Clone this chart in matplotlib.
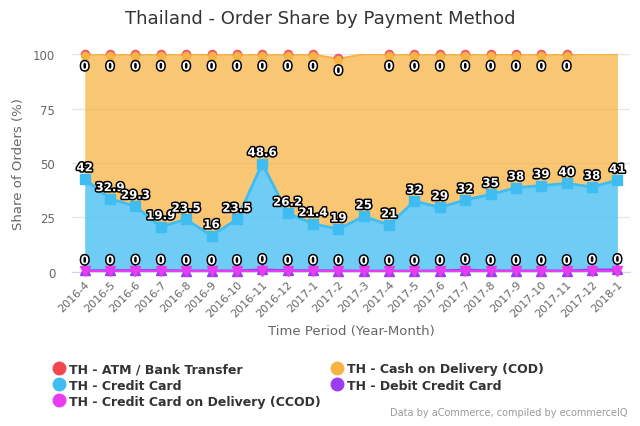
import numpy as np
import matplotlib
matplotlib.use('agg')
import matplotlib.pyplot as plt
import matplotlib.patheffects as pe
from matplotlib.lines import Line2D

months = ['2016-4', '2016-5', '2016-6', '2016-7', '2016-8', '2016-9', '2016-10',
          '2016-11', '2016-12', '2017-1', '2017-2', '2017-3', '2017-4', '2017-5',
          '2017-6', '2017-7', '2017-8', '2017-9', '2017-10', '2017-11', '2017-12', '2018-1']

# series, stacked bottom -> top
ccod = [0.2, 0.2, 0.2, 0.2, 0.2, 0.2, 0.2, 0.2, 0.2, 0.2, 0.2,
        0.2, 0.2, 0.2, 0.2, 0.2, 0.2, 0.2, 0.2, 0.2, 0.2, 0.2]
debit = [0.5, 0.5, 0.6, 0.6, 0.4, 0.4, 0.4, 0.9, 0.5, 0.5, 0.4,
         0.3, 0.3, 0.3, 0.4, 0.8, 0.4, 0.4, 0.4, 0.4, 0.8, 0.9]
credit = [42, 32.9, 29.3, 19.9, 23.5, 16, 23.5, 48.6, 26.2, 21.4, 19,
          25, 21, 32, 29, 32, 35, 38, 39, 40, 38, 41]
cod = [57.1, 66.2, 69.7, 79.1, 75.7, 83.2, 75.7, 50.1, 72.9, 77.7, 78.2,
       74.5, 78.3, 67.3, 70.2, 66.8, 64.2, 61.2, 60.2, 59.2, 61.0, 57.9]
atm = [0.2, 0.2, 0.2, 0.2, 0.2, 0.2, 0.2, 0.2, 0.2, 0.2, 0.2,
       None, 0.2, 0.2, 0.2, 0.2, 0.2, 0.2, 0.2, 0.2, None, None]

c_red = '#f0474e'
c_orange = '#f7b444'
c_blue = '#3fbdf2'
c_purple = '#9b3cf3'
c_magenta = '#e83cf0'

x = np.arange(len(months))
s_ccod = np.array(ccod, dtype=float)
s_debit = s_ccod + np.array(debit, dtype=float)
s_credit = s_debit + np.array(credit, dtype=float)
s_cod = s_credit + np.array(cod, dtype=float)
atm_arr = np.array([np.nan if v is None else v for v in atm], dtype=float)
s_atm = s_cod + atm_arr

fig = plt.figure(figsize=(6.4, 4.27), dpi=100)
ax = fig.add_axes([0.1125, 0.361, 0.872, 0.51])

ax.fill_between(x, s_credit, s_cod, color=c_orange, alpha=0.75, lw=0, zorder=1)
ax.fill_between(x, s_debit, s_credit, color=c_blue, alpha=0.75, lw=0, zorder=1)
ax.fill_between(x, s_ccod, s_debit, color=c_purple, alpha=0.75, lw=0, zorder=1)
ax.fill_between(x, 0, s_ccod, color=c_magenta, alpha=0.75, lw=0, zorder=1)

ax.plot(x, s_cod, color=c_orange, lw=1.5, zorder=3)
ax.plot(x, s_credit, color=c_blue, lw=2, zorder=3)
ax.plot(x, s_credit, 's', color=c_blue, ms=7, zorder=4, clip_on=False)
ax.plot(x, s_debit, color=c_purple, lw=1.5, zorder=3)
ax.plot(x, s_debit, '^', color=c_purple, ms=6.5, zorder=4, clip_on=False)
ax.plot(x, s_ccod, color=c_magenta, lw=1.5, zorder=3)
ax.plot(x, s_ccod, 'v', color=c_magenta, ms=6.5, zorder=5, clip_on=False)
ax.plot(x, s_atm, 'o', color=c_red, ms=6, alpha=0.8, zorder=5, clip_on=False)
ax.plot(x, s_atm - 0.8, 'o', color=c_orange, ms=5.5, zorder=6, clip_on=False)

outline = [pe.withStroke(linewidth=2.2, foreground='black')]
lab_kw = dict(ha='center', va='center', color='white', fontsize=8.5,
              fontweight='bold', path_effects=outline, zorder=8,
              textcoords='offset points')

for xi, top, v in zip(x, s_credit, credit):
    ax.annotate('{:g}'.format(v), (xi, top), xytext=(0, 8), **lab_kw)
for xi, top, v in zip(x, s_debit, debit):
    ax.annotate(str(int(v)), (xi, top), xytext=(0, 7), **lab_kw)
for xi, top, v in zip(x, s_atm, atm_arr):
    if np.isnan(v):
        continue
    ax.annotate(str(int(v)), (xi, top), xytext=(0, -9), **lab_kw)

ax.set_xlim(-0.5, len(months) - 0.5)
ax.set_ylim(0, 100)
ax.set_yticks([0, 25, 50, 75, 100])
ax.set_xticks(x)
ax.set_xticklabels(months, rotation=45, ha='right', rotation_mode='anchor')
ax.tick_params(axis='both', length=0, colors='#666666', labelsize=8.5)
ax.tick_params(axis='x', pad=5, labelsize=8)
ax.tick_params(axis='y', pad=12)
ax.grid(axis='y', color='#e6e6e6', lw=1, zorder=0)
ax.set_axisbelow(True)
for sp in ['top', 'right', 'left']:
    ax.spines[sp].set_visible(False)
ax.spines['bottom'].set_color('#ccd6eb')
ax.set_ylabel('Share of Orders (%)', color='#666666', fontsize=9.5, labelpad=6)
ax.set_xlabel('Time Period (Year-Month)', color='#666666', fontsize=9.5, labelpad=4)

fig.suptitle('Thailand - Order Share by Payment Method', x=0.5, y=0.977,
             fontsize=13, color='#333333')

names = ['TH - ATM / Bank Transfer', 'TH - Credit Card',
         'TH - Credit Card on Delivery (CCOD)', 'TH - Cash on Delivery (COD)',
         'TH - Debit Credit Card']
cols = [c_red, c_blue, c_magenta, c_orange, c_purple]
handles = [Line2D([], [], marker='o', ls='none', color=c, ms=9) for c in cols]
leg = fig.legend(handles, names, ncol=2, loc='upper left',
                 bbox_to_anchor=(0.082, 0.149),
                 frameon=False, handletextpad=0.3, columnspacing=0.8,
                 labelspacing=0.25, prop={'weight': 'bold', 'size': 9},
                 handlelength=1.0, borderaxespad=0, borderpad=0)
for t in leg.get_texts():
    t.set_color('#333333')

fig.text(0.98, 0.02, 'Data by aCommerce, compiled by ecommerceIQ',
         ha='right', va='bottom', fontsize=7, color='#999999')

fig.savefig('out.png', dpi=100)
